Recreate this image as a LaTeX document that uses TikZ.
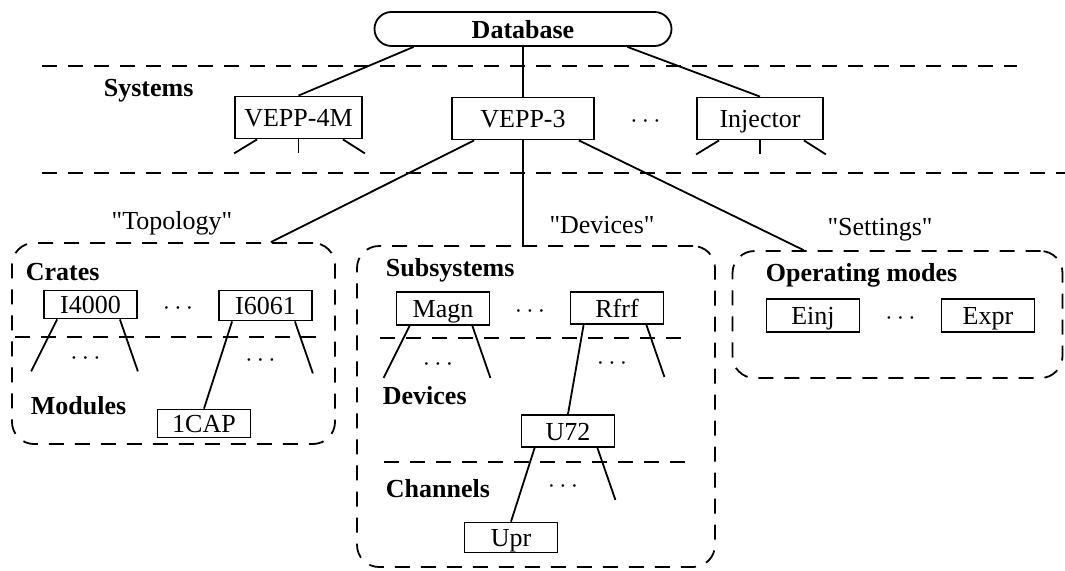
\RequirePackage{fix-cm}
\documentclass[tikz,border=0pt]{standalone}
\usepackage{fontspec}
\setmainfont{Liberation Serif}
\usetikzlibrary{positioning}

\begin{document}
\begin{tikzpicture}[x=1pt,y=-1pt,line width=1.8pt,inner sep=0pt,text height=18pt,text depth=0pt,font=\fontsize{26}{30}\selectfont]
\tikzstyle{title}=[font=\fontsize{26}{30}\selectfont\bfseries]
\tikzstyle{sysbox}=[draw,minimum height=42pt]
\tikzstyle{itembox}=[draw,minimum width=93pt,minimum height=30pt]
\tikzstyle{sep}=[dash pattern=on 15pt off 11pt]
\tikzstyle{group}=[draw,sep,rounded corners=22pt]
\useasboundingbox (0,0) rectangle (1065,570);
% levels
\draw[sep] (42,66) -- (1017,66);
\draw[sep] (42,173) -- (1065,173);
\node (db) [draw,rounded corners=17pt,minimum width=297pt,minimum height=34pt,title] at (523,29) {Database};
\node (sys) [anchor=west,title] at (103,87) {Systems};
\node (v4) [sysbox,minimum width=127pt] at (298.5,117.5) {VEPP-4M};
\node (v3) [sysbox,minimum width=142pt] at (523,118.5) {VEPP-3};
\node (inj) [sysbox,minimum width=126pt] at (760,118.5) {Injector};
\path (v3) -- (inj) node[midway] (sd) {$\cdots$};
\draw ([xshift=40pt]db.south west) -- (v4.north);
\draw (db.south) -- (v3.north);
\draw ([xshift=-45pt]db.south east) -- (inj.north);
\foreach \n in {v4,inj} {
  \coordinate (\n-l) at ([yshift=-14pt]\n.south west);
  \coordinate (\n-m) at ([yshift=-14pt]\n.south);
  \coordinate (\n-r) at ([xshift=2pt,yshift=-14pt]\n.south east);
  \draw ([xshift=23pt]\n.south west) -- (\n-l);
  \draw (\n.south) -- (\n-m);
  \draw ([xshift=-20pt]\n.south east) -- (\n-r);
}
% groups
\node (topo) [group,minimum width=323pt,minimum height=201pt] at (173.5,343.5) {};
\node (dev) [group,minimum width=358pt,minimum height=321pt] at (536,406.5) {};
\node (set) [group,minimum width=330pt,minimum height=127pt] at (897.5,314.5) {};
\node (topol) at (172,220) {\textquotedbl Topology\textquotedbl};
\node (devl) at (602,224) {\textquotedbl Devices\textquotedbl};
\node (setl) at (880,226) {\textquotedbl Settings\textquotedbl};
\draw ([xshift=23pt]v3.south west) -- ([xshift=-65pt]topo.north east);
\draw (v3.south) -- (v3.south |- dev.north);
\draw ([xshift=-16pt]v3.south east) -- ([xshift=72pt]set.north west);
% topology
\node (crates) [anchor=west,title] at (25,271) {Crates};
\node (i4) [itembox,minimum height=28pt] at (90.5,304.5) {I4000};
\node (i6) [itembox] at (265.5,305.5) {I6061};
\path (i4) -- (i6) node[midway] (cd) {$\cdots$};
\draw[sep] (15,337) -- (325,337);
\node (mod) [anchor=west,title] at (30,405) {Modules};
\node (cap) [itembox,minimum height=28pt] at (204,423.5) {1CAP};
% devices
\node (subs) [anchor=west,title] at (385,267) {Subsystems};
\node (mg) [itembox,minimum height=33pt] at (443,308.5) {Magn};
\node (rf) [itembox,minimum height=32pt] at (617,308) {Rfrf};
\path (mg) -- (rf) node[midway] (sbd) {$\cdots$};
\draw[sep] (380,338) -- (690,338);
\node (devs) [anchor=west,title] at (382,395) {Devices};
\node (u7) [itembox,minimum height=32pt] at (568,431) {U72};
\draw[sep] (384,462) -- (690,462);
\node (chan) [anchor=west,title] at (385,488) {Channels};
\node (upr) [itembox] at (511,537.5) {Upr};
% settings
\node (opm) [anchor=west,title] at (765,272) {Operating modes};
\node (einj) [itembox,minimum height=33pt] at (813,315.5) {Einj};
\node (expr) [itembox,minimum height=33pt] at (988,315.5) {Expr};
\path (einj) -- (expr) node[midway] (od) {$\cdots$};
% fans
\foreach \n in {i4,i6,mg,rf,u7} {
  \coordinate (\n-r) at ([yshift=-52pt]\n.south east);
  \draw ([xshift=-18pt]\n.south east) -- (\n-r);
  \node (\n-d) at ([xshift=-5pt,yshift=-36pt]\n.south) {$\cdots$};
}
\foreach \n in {i4,mg} {
  \coordinate (\n-l) at ([xshift=-12pt,yshift=-52pt]\n.south west);
  \draw ([xshift=14pt]\n.south west) -- (\n-l);
}
\draw ([xshift=14pt]i6.south west) -- (cap.north);
\draw ([xshift=14pt]rf.south west) -- (u7.north);
\draw ([xshift=14pt]u7.south west) -- (upr.north);
\end{tikzpicture}
\end{document}
